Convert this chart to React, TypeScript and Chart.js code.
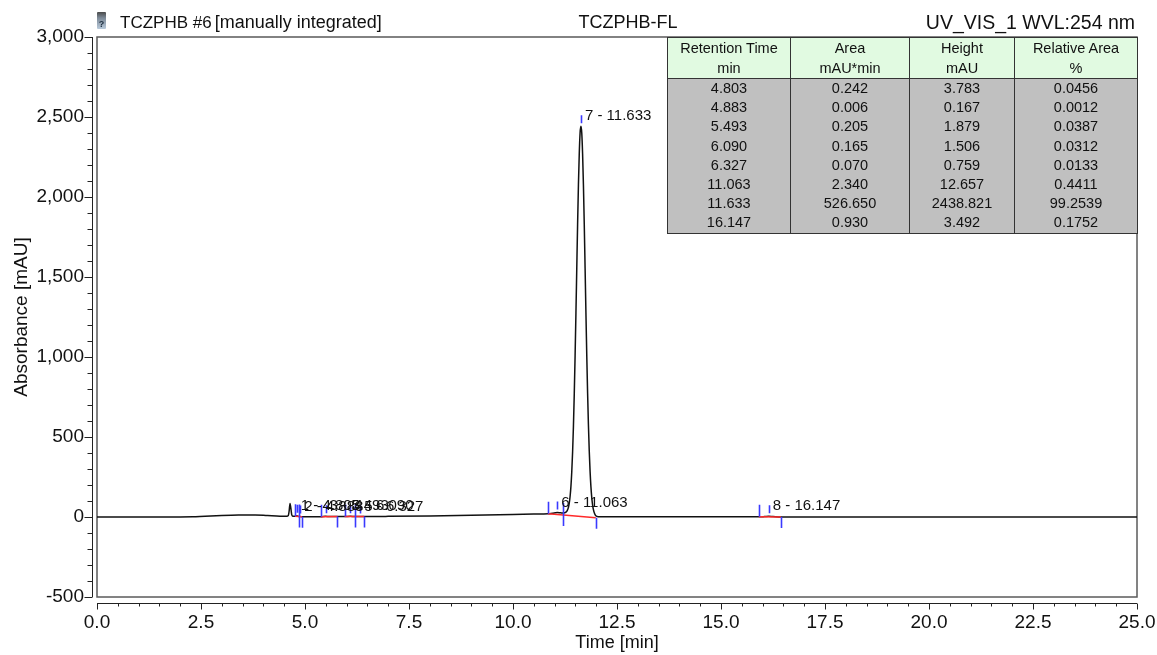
import { useEffect, useRef } from "react";
import { Chart, registerables } from "chart.js";

Chart.register(...registerables);

const FONT = "'Liberation Sans', Arial, Helvetica, sans-serif";

// Chromatogram trace: retention time (min) and absorbance (mAU)
const traceTime = [
  0.0, 1.0, 2.0, 2.3, 2.6, 3.0, 3.4, 3.8, 4.1, 4.4, 4.56, 4.6, 4.62, 4.64, 4.66, 4.68, 4.71,
  4.76, 4.803, 4.85, 4.883, 4.93, 5.1, 5.38, 5.493, 5.6, 5.78, 5.95, 6.09, 6.2, 6.327, 6.42,
  7.0, 8.0, 9.0, 10.0, 10.5, 10.84, 10.95, 11.063, 11.15, 11.21, 11.273, 11.303, 11.333,
  11.353, 11.373, 11.393, 11.413, 11.433, 11.453, 11.473, 11.493, 11.513, 11.533, 11.553,
  11.573, 11.593, 11.613, 11.633, 11.653, 11.673, 11.693, 11.713, 11.733, 11.753, 11.773,
  11.793, 11.813, 11.833, 11.853, 11.873, 11.893, 11.913, 11.933, 11.963, 11.99, 12.05,
  12.2, 13.5, 15.0, 15.91, 16.05, 16.147, 16.25, 16.44, 17.0, 20.0, 25.0,
];
const traceAbs = [
  0, 0, 0, 1, 5, 9, 12, 13, 9, 5, 4, 10, 40, 85, 55, 15, 5,
  4, 7.3, 3, 2.7, 2, 2, 2, 4.2, 3, 3, 3, 4.5, 3, 3.8, 3,
  4, 7, 11, 15, 18, 20, 24, 28, 26, 25, 30, 40, 61,
  88, 130, 193, 284, 408, 569, 771, 1009, 1275, 1555, 1829,
  2076, 2272, 2402, 2442.3, 2400, 2270, 2075, 1830, 1556, 1278, 1013,
  778, 577, 413, 285, 190, 122, 76, 46, 20, 8, 2,
  1, 1, 1, 1, 2.5, 4.0, 2.5, 0, 0, 0, 0,
];

// Integrated peaks
const peakRetention = [4.803, 4.883, 5.493, 6.09, 6.327, 11.063, 11.633, 16.147];
const peakArea = [0.242, 0.006, 0.205, 0.165, 0.07, 2.34, 526.65, 0.93];
const peakHeight = [3.783, 0.167, 1.879, 1.506, 0.759, 12.657, 2438.821, 3.492];
const peakRelArea = [0.0456, 0.0012, 0.0387, 0.0312, 0.0133, 0.4411, 99.2539, 0.1752];
const peakStart = [4.76, 4.85, 5.38, 5.95, 6.2, 10.84, 11.21, 15.91];
const peakEnd = [4.85, 4.93, 5.78, 6.2, 6.42, 11.21, 11.99, 16.44];
const baseAtStart = [4, 3, 2, 3, 3, 20, 12.3, 1];
const baseAtEnd = [3, 2, 3, 3, 3, 12.3, -4, 0];

// Axes
const X_MIN = 0;
const X_MAX = 25;
const X_STEP = 2.5;
const X_MINOR = 0.5;
const Y_MIN = -500;
const Y_MAX = 3000;
const Y_STEP = 500;
const Y_MINOR = 100;

const tableHeader = [
  ["Retention Time", "min"],
  ["Area", "mAU*min"],
  ["Height", "mAU"],
  ["Relative Area", "%"],
];
const columnWidths = [123, 119, 105, 123];

function baselineAt(i: number, t: number) {
  const f = (t - peakStart[i]) / (peakEnd[i] - peakStart[i]);
  return baseAtStart[i] + f * (baseAtEnd[i] - baseAtStart[i]);
}

const axesAndFrame = {
  id: "axesAndFrame",
  beforeDatasetsDraw(chart: any) {
    const { ctx, chartArea: a } = chart;
    const xs = chart.scales.x;
    const ys = chart.scales.y;
    ctx.save();
    // plot frame
    ctx.strokeStyle = "#5a5a5a";
    ctx.lineWidth = 1.5;
    ctx.strokeRect(a.left, a.top, a.right - a.left, a.bottom - a.top);

    ctx.strokeStyle = "#222";
    ctx.lineWidth = 1;
    // y axis with major and minor ticks
    const axX = Math.round(a.left - 5) + 0.5;
    ctx.beginPath();
    ctx.moveTo(axX, ys.getPixelForValue(Y_MAX));
    ctx.lineTo(axX, ys.getPixelForValue(Y_MIN));
    for (let v = Y_MIN; v <= Y_MAX; v += Y_MINOR) {
      const py = Math.round(ys.getPixelForValue(v)) + 0.5;
      const len = v % Y_STEP === 0 ? 8 : 5;
      ctx.moveTo(axX - len, py);
      ctx.lineTo(axX, py);
    }
    // x axis with major and minor ticks
    const axY = Math.round(a.bottom + 6) + 0.5;
    ctx.moveTo(xs.getPixelForValue(X_MIN), axY);
    ctx.lineTo(xs.getPixelForValue(X_MAX), axY);
    for (let i = 0; i <= Math.round((X_MAX - X_MIN) / X_MINOR); i++) {
      const v = X_MIN + i * X_MINOR;
      const px = Math.round(xs.getPixelForValue(v)) + 0.5;
      const len = i % Math.round(X_STEP / X_MINOR) === 0 ? 6 : 3;
      ctx.moveTo(px, axY);
      ctx.lineTo(px, axY + len);
    }
    ctx.stroke();
    ctx.restore();
  },
  afterDatasetsDraw(chart: any) {
    const { ctx } = chart;
    const xs = chart.scales.x;
    const ys = chart.scales.y;
    ctx.save();
    ctx.strokeStyle = "#3a3aff";
    ctx.lineWidth = 1.6;
    ctx.beginPath();
    for (let i = 0; i < peakRetention.length; i++) {
      // peak start and end delimiters
      const sx = Math.round(xs.getPixelForValue(peakStart[i])) + 0.5;
      const sy = ys.getPixelForValue(baseAtStart[i]);
      ctx.moveTo(sx, sy);
      ctx.lineTo(sx, sy - 12);
      const ex = Math.round(xs.getPixelForValue(peakEnd[i])) + 0.5;
      const ey = ys.getPixelForValue(baseAtEnd[i]);
      ctx.moveTo(ex, ey);
      ctx.lineTo(ex, ey + 11);
      // apex marker
      const rt = peakRetention[i];
      const ax = Math.round(xs.getPixelForValue(rt)) + 0.5;
      const ay = ys.getPixelForValue(baselineAt(i, rt) + peakHeight[i]);
      ctx.moveTo(ax, ay - 11);
      ctx.lineTo(ax, ay - 3);
    }
    ctx.stroke();

    ctx.fillStyle = "#111";
    ctx.font = `15px ${FONT}`;
    ctx.textAlign = "left";
    ctx.textBaseline = "middle";
    for (let i = 0; i < peakRetention.length; i++) {
      const rt = peakRetention[i];
      const ax = xs.getPixelForValue(rt);
      const ay = ys.getPixelForValue(baselineAt(i, rt) + peakHeight[i]);
      ctx.fillText(`${i + 1} - ${rt.toFixed(3)}`, ax + 4, ay - 10);
    }
    ctx.restore();
  },
};

export default function App() {
  const canvasRef = useRef<HTMLCanvasElement | null>(null);

  useEffect(() => {
    const canvas = canvasRef.current;
    if (!canvas) return;

    const trace = traceTime.map((t, i) => ({ x: t, y: traceAbs[i] }));
    const baselines: { x: number; y: number | null }[] = [];
    peakStart.forEach((s, i) => {
      baselines.push({ x: s, y: baseAtStart[i] });
      baselines.push({ x: peakEnd[i], y: baseAtEnd[i] });
      baselines.push({ x: peakEnd[i], y: null });
    });

    const chart = new Chart(canvas, {
      type: "line",
      data: {
        datasets: [
          {
            label: "Integration baseline",
            data: baselines as any,
            borderColor: "#ff2a2a",
            borderWidth: 1.5,
            pointRadius: 0,
            spanGaps: false,
            tension: 0,
          },
          {
            label: "UV_VIS_1",
            data: trace,
            borderColor: "#111111",
            borderWidth: 1.5,
            pointRadius: 0,
            cubicInterpolationMode: "monotone",
          },
        ],
      },
      options: {
        responsive: false,
        animation: false,
        devicePixelRatio: 1,
        layout: { padding: { left: 0, top: 37, right: 20, bottom: 0 } },
        plugins: {
          legend: { display: false },
          tooltip: { enabled: false },
          title: { display: false },
        },
        scales: {
          x: {
            type: "linear",
            min: X_MIN,
            max: X_MAX,
            grid: { display: false, drawTicks: false },
            border: { display: false },
            ticks: {
              stepSize: X_STEP,
              padding: 14,
              maxRotation: 0,
              autoSkip: false,
              color: "#111",
              font: { family: FONT, size: 19 },
              callback: (v: any) => Number(v).toFixed(1),
            },
            title: {
              display: true,
              text: "Time [min]",
              color: "#111",
              font: { family: FONT, size: 18 },
              padding: { top: 0, bottom: 1 },
            },
            afterFit: (s: any) => {
              s.height = 58;
              s.paddingLeft = 0;
              s.paddingRight = 0;
            },
          },
          y: {
            type: "linear",
            min: Y_MIN,
            max: Y_MAX,
            grid: { display: false, drawTicks: false },
            border: { display: false },
            ticks: {
              stepSize: Y_STEP,
              padding: 13,
              color: "#111",
              font: { family: FONT, size: 19 },
            },
            title: {
              display: true,
              text: "Absorbance [mAU]",
              color: "#111",
              font: { family: FONT, size: 19 },
              padding: { top: 10, bottom: 0 },
            },
            afterFit: (s: any) => {
              s.width = 97;
              s.paddingTop = 0;
              s.paddingBottom = 0;
            },
          },
        },
      },
      plugins: [axesAndFrame],
    });

    return () => chart.destroy();
  }, []);

  const cell: React.CSSProperties = {
    padding: 0,
    textAlign: "center",
    borderLeft: "1.5px solid #333",
    borderRight: "1.5px solid #333",
  };

  return (
    <div
      style={{
        position: "absolute",
        left: 0,
        top: 0,
        width: 1157,
        height: 655,
        background: "#fff",
        fontFamily: FONT,
        color: "#111",
      }}
    >
      <canvas ref={canvasRef} width={1157} height={655} style={{ position: "absolute", left: 0, top: 0 }} />

      {/* header line */}
      <div
        style={{
          position: "absolute",
          left: 97,
          top: 12,
          width: 9,
          height: 17,
          background: "linear-gradient(#4a4a4a 0%, #7d8a98 35%, #b9cadb 100%)",
          borderRadius: 1,
          fontSize: 9,
          lineHeight: "24px",
          textAlign: "center",
          color: "#234",
          fontWeight: "bold",
        }}
      >
        ?
      </div>
      <div style={{ position: "absolute", left: 120, top: 11, lineHeight: "22px", whiteSpace: "nowrap" }}>
        <span style={{ fontSize: 17 }}>TCZPHB #6</span>
        <span style={{ fontSize: 18, marginLeft: 3 }}>[manually integrated]</span>
      </div>
      <div
        style={{
          position: "absolute",
          left: 528,
          width: 200,
          top: 11,
          lineHeight: "22px",
          fontSize: 18,
          textAlign: "center",
          whiteSpace: "nowrap",
        }}
      >
        TCZPHB-FL
      </div>
      <div
        style={{
          position: "absolute",
          right: 1157 - 1135,
          top: 11,
          lineHeight: "22px",
          fontSize: 19.5,
          textAlign: "right",
          whiteSpace: "nowrap",
        }}
      >
        UV_VIS_1 WVL:254 nm
      </div>

      {/* peak table */}
      <table
        style={{
          position: "absolute",
          left: 667,
          top: 37,
          borderCollapse: "collapse",
          tableLayout: "fixed",
          fontSize: 14.5,
          border: "1.5px solid #333",
        }}
      >
        <colgroup>
          {columnWidths.map((w, i) => (
            <col key={i} style={{ width: w }} />
          ))}
        </colgroup>
        <thead>
          <tr style={{ background: "#e1fae1" }}>
            {tableHeader.map((h, i) => (
              <th
                key={i}
                style={{
                  ...cell,
                  fontWeight: "normal",
                  lineHeight: "20px",
                  borderBottom: "1.5px solid #333",
                }}
              >
                {h[0]}
                <br />
                {h[1]}
              </th>
            ))}
          </tr>
        </thead>
        <tbody style={{ background: "#c0c0c0" }}>
          {peakRetention.map((rt, i) => (
            <tr key={i}>
              <td style={{ ...cell, lineHeight: "19.2px" }}>{rt.toFixed(3)}</td>
              <td style={{ ...cell, lineHeight: "19.2px" }}>{peakArea[i].toFixed(3)}</td>
              <td style={{ ...cell, lineHeight: "19.2px" }}>{peakHeight[i].toFixed(3)}</td>
              <td style={{ ...cell, lineHeight: "19.2px" }}>{peakRelArea[i].toFixed(4)}</td>
            </tr>
          ))}
        </tbody>
      </table>
    </div>
  );
}
